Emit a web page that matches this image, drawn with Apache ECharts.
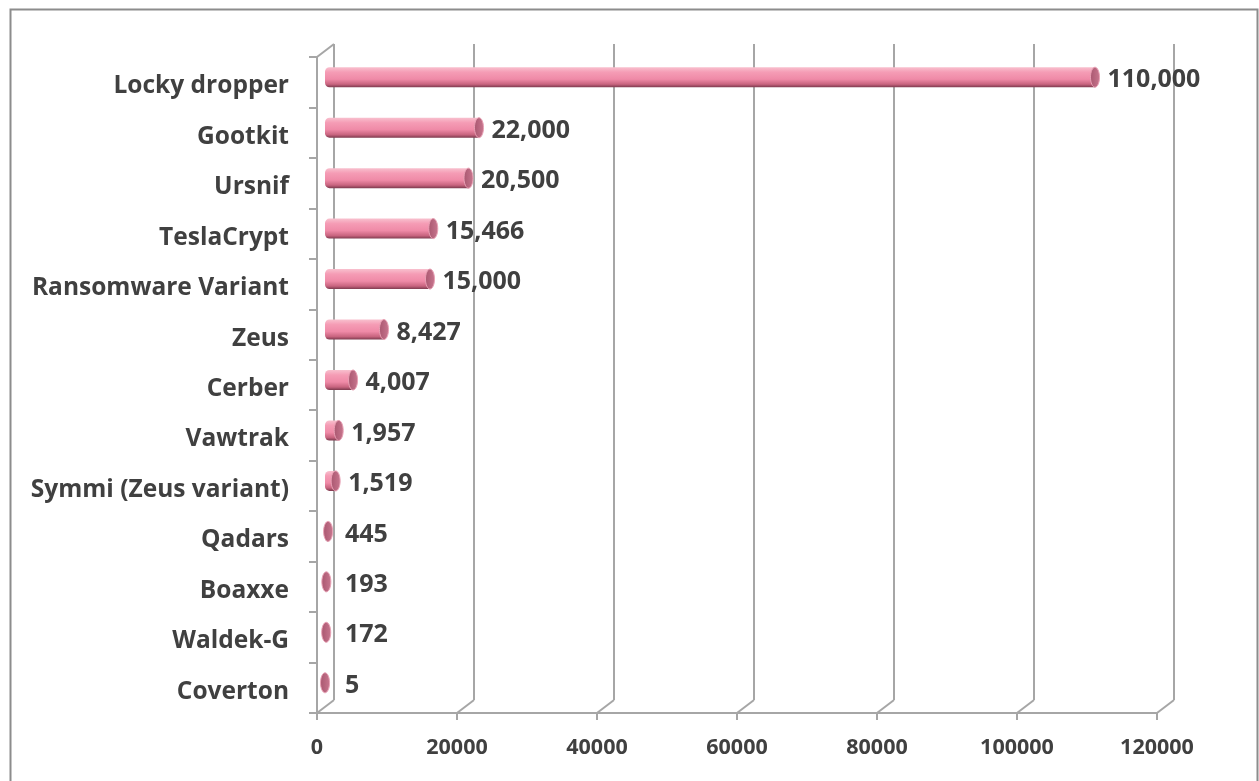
<!DOCTYPE html>
<html>
<head>
<meta charset="utf-8">
<script src="https://cdn.jsdelivr.net/npm/echarts@6/dist/echarts.min.js"></script>
<style>
html,body{margin:0;padding:0;background:#fff;}
#chart{width:1259px;height:781px;}
</style>
</head>
<body>
<div id="chart"></div>
<script>
const categories = ["Locky dropper","Gootkit","Ursnif","TeslaCrypt","Ransomware Variant","Zeus","Cerber","Vawtrak","Symmi (Zeus variant)","Qadars","Boaxxe","Waldek-G","Coverton"];
const values = [110000,22000,20500,15466,15000,8427,4007,1957,1519,445,193,172,5];
const xTicks = [0,20000,40000,60000,80000,100000,120000];

const FONT = '"Open Sans"';
const TXT = '#404040';
const GRID_C = '#a6a6a6';
const DX = 17, DY = 13; // depth offset between front and back planes

const chart = echarts.init(document.getElementById('chart'));

function barItem(params, api) {
  const cat = api.value(0);
  const val = api.value(1);
  const p0 = api.coord([0, cat]);
  const p1 = api.coord([val, cat]);
  const h = 20;
  const ox = -9, oy = 8;
  const x0 = p0[0] + ox, x1 = p1[0] + ox;
  const cy = p0[1] + oy;
  const rx = 4.5;
  const children = [];
  const bodyGrad = new echarts.graphic.LinearGradient(0, 0, 0, 1, [
    {offset: 0, color: '#f8c0ce'},
    {offset: 0.25, color: '#f59cb5'},
    {offset: 0.6, color: '#ef8aa7'},
    {offset: 0.85, color: '#c8647f'},
    {offset: 1, color: '#7d3a4e'}
  ]);
  if (x1 - x0 > 0.5) {
    children.push({
      type: 'rect',
      shape: {x: x0, y: cy - h / 2, width: x1 - x0, height: h, r: [h/2*0.45, 0, 0, h/2*0.45]},
      style: {fill: bodyGrad}
    });
  }
  children.push({
    type: 'ellipse',
    shape: {cx: x1, cy: cy, rx: rx, ry: h / 2},
    style: {
      fill: new echarts.graphic.LinearGradient(0, 0, 1, 0, [
        {offset: 0, color: '#a9566f'},
        {offset: 1, color: '#c8778f'}
      ]),
      stroke: '#e9a1b5', lineWidth: 1
    }
  });
  children.push({
    type: 'text',
    style: {
      x: Math.max(x1 + rx + 8, x0 + 20), y: cy + 3,
      text: val.toLocaleString('en-US'),
      fill: TXT, font: 'bold 25px ' + FONT,
      textVerticalAlign: 'middle', textAlign: 'left'
    }
  });
  return {type: 'group', children: children};
}

function connectorItem(params, api) {
  const v = api.value(0);
  const cs = params.coordSys;
  const x = api.coord([v, 0])[0];
  const yb = cs.y + cs.height;
  const children = [{
    type: 'line',
    shape: {x1: x - DX, y1: yb + DY, x2: x, y2: yb},
    style: {stroke: GRID_C, lineWidth: 2}
  }];
  if (v === 0) {
    children.push({
      type: 'line',
      shape: {x1: x - DX, y1: cs.y + DY, x2: x, y2: cs.y},
      style: {stroke: GRID_C, lineWidth: 2}
    });
  }
  return {type: 'group', children: children};
}

const FRONT = {left: 317, top: 57, width: 840, height: 656};
const BACK = {left: 317 + DX, top: 57 - DY, width: 840, height: 656};

chart.setOption({
  animation: false,
  backgroundColor: '#fff',
  graphic: [{
    type: 'rect', left: 8, top: 7,
    shape: {width: 1247, height: 790},
    style: {fill: 'none', stroke: '#8c8c8c', lineWidth: 2}, z: -1
  }],
  grid: [
    Object.assign({}, FRONT, {containLabel: false}),
    Object.assign({}, BACK, {containLabel: false})
  ],
  xAxis: [
    {
      gridIndex: 0, type: 'value', min: 0, max: 120000, interval: 20000,
      axisLine: {show: true, lineStyle: {color: GRID_C, width: 2}},
      axisTick: {show: true, length: 7, lineStyle: {color: GRID_C, width: 2}},
      axisLabel: {color: TXT, fontFamily: FONT, fontWeight: 'bold', fontSize: 21.5, margin: 24,
        formatter: v => String(v)},
      splitLine: {show: false}
    },
    {
      gridIndex: 1, type: 'value', min: 0, max: 120000, interval: 20000,
      axisLine: {show: false}, axisTick: {show: false}, axisLabel: {show: false},
      splitLine: {show: true, showMinLine: true, showMaxLine: true, lineStyle: {color: GRID_C, width: 2}}
    }
  ],
  yAxis: [
    {
      gridIndex: 0, type: 'category', data: categories, inverse: true,
      axisLine: {show: true, lineStyle: {color: GRID_C, width: 2}},
      axisTick: {show: true, length: 8, lineStyle: {color: GRID_C, width: 2}},
      axisLabel: {
        margin: 28,
        formatter: v => '{c|' + v + '}',
        rich: {c: {color: TXT, fontFamily: FONT, fontWeight: 'bold', fontSize: 24.5, padding: [8, 0, 0, 0]}}
      },
      splitLine: {show: false}
    },
    {
      gridIndex: 1, type: 'category', data: categories, inverse: true,
      axisLine: {show: false}, axisTick: {show: false}, axisLabel: {show: false},
      splitLine: {show: false}
    }
  ],
  series: [
    {
      type: 'custom', xAxisIndex: 1, yAxisIndex: 1,
      renderItem: connectorItem,
      data: xTicks.map(v => [v, 0]),
      encode: {x: 0, y: 1}, silent: true, z: 1
    },
    {
      type: 'custom', xAxisIndex: 1, yAxisIndex: 1,
      renderItem: barItem,
      data: values.map((v, i) => [i, v]),
      encode: {y: 0, x: 1}, silent: true, z: 3
    }
  ]
});
</script>
</body>
</html>
